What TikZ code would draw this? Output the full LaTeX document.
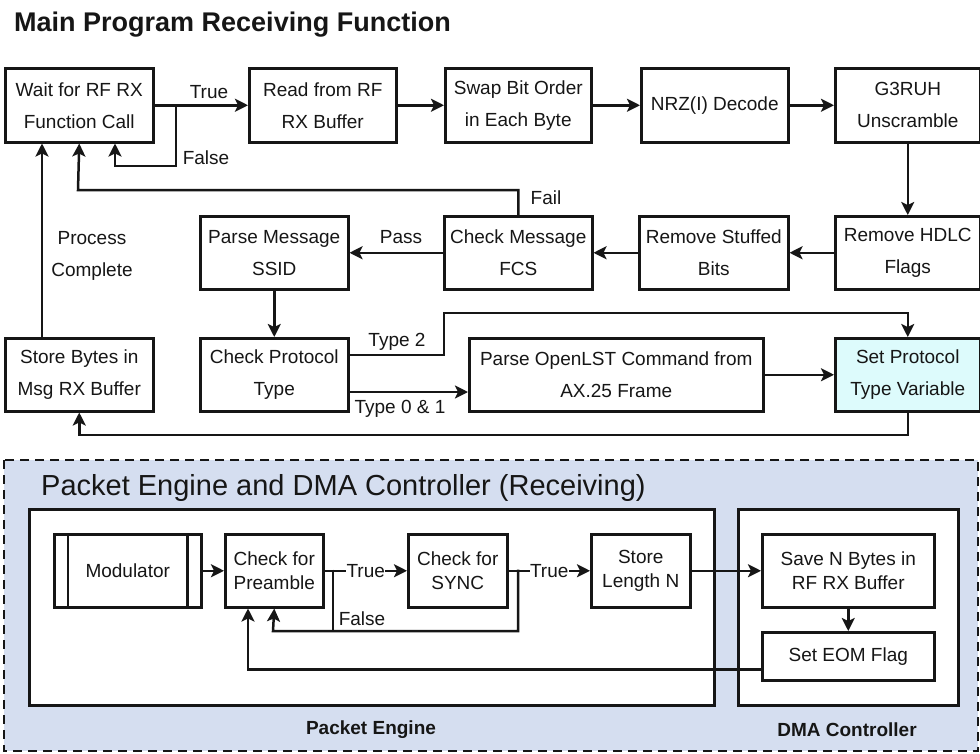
\documentclass[tikz,border=0pt]{standalone}
\usepackage{fontspec}
\setmainfont{Liberation Sans}
\usetikzlibrary{arrows.meta,calc}
\definecolor{txt}{RGB}{22,22,22}
\definecolor{cyanfill}{RGB}{221,251,252}
\definecolor{panel}{RGB}{213,222,240}
\begin{document}
\begin{tikzpicture}[x=1pt,y=-1pt,
  box/.style={draw=txt, line width=2.5pt, inner sep=0pt, align=center, anchor=north west, text=txt, font=\fontsize{19}{32}\selectfont},
  sbox/.style={box, font=\fontsize{19}{24}\selectfont},
  arr/.style={draw=txt, line width=2.5pt, -{Stealth[length=13pt,width=13pt,inset=3pt]}},
  ln/.style={draw=txt, line width=2.5pt},
  lbl/.style={text=txt, font=\fontsize{19}{32}\selectfont, inner sep=0.5pt, align=center},
  blbl/.style={text=txt, font=\fontsize{19}{24}\selectfont\bfseries, inner sep=0pt},
]
\path[fill=white] (0,0) rectangle (980,753);
\useasboundingbox (0,0) rectangle (980,753);

% title
\node[anchor=base west, text=txt, font=\fontsize{27}{32}\selectfont\bfseries, inner sep=0pt] (title) at (14,31) {Main Program Receiving Function};

% top section boxes
\node[box, minimum width=148pt, minimum height=74pt] (b1) at (4,67) {Wait for RF RX\\Function Call};
\node[box, minimum width=147pt, minimum height=74pt] (b2) at (248,67) {Read from RF\\RX Buffer};
\node[box, minimum width=146pt, minimum height=74pt] (b3) at (444,67) {Swap Bit Order\\in Each Byte};
\node[box, minimum width=147pt, minimum height=74pt] (b4) at (640,67) {NRZ(I) Decode};
\node[box, minimum width=145pt, minimum height=74pt] (b5) at (834,67) {G3RUH\\Unscramble};
\node[box, minimum width=145pt, minimum height=73pt] (hdlc) at (834,215) {Remove HDLC\\Flags};
\node[box, minimum width=149pt, minimum height=73pt] (stuff) at (638,215) {Remove Stuffed\\Bits};
\node[box, minimum width=148pt, minimum height=73pt] (fcs) at (443,215) {Check Message\\FCS};
\node[box, minimum width=148pt, minimum height=73pt] (ssid) at (199,215) {Parse Message\\SSID};
\node[box, minimum width=148pt, minimum height=73pt] (proto) at (199,337) {Check Protocol\\Type};
\node[box, minimum width=148pt, minimum height=73pt] (store) at (4,337) {Store Bytes in\\Msg RX Buffer};
\node[box, minimum width=294pt, minimum height=73pt] (open) at (468,337) {Parse OpenLST Command from\\AX.25 Frame};
\node[box, fill=cyanfill, minimum width=145pt, minimum height=73pt] (setp) at (834,337) {Set Protocol\\Type Variable};

% top section connectors
\coordinate (j1) at (176,104);
\coordinate (fl) at (115,166);
\draw[arr] (b1.east) -- (b2.west);
\node[lbl] (ltrue) at (209,92) {True};
\draw[arr] (j1) |- (fl) -- (fl |- b1.south);
\node[lbl] (lfalse) at (206,158) {False};
\draw[arr] (b2.east) -- (b3.west);
\draw[arr] (b3.east) -- (b4.west);
\draw[arr] (b4.east) -- (b5.west);
\draw[arr] (b5.south) -- (hdlc.north);
\draw[arr] (hdlc.west) -- (stuff.east);
\draw[arr] (stuff.west) -- (fcs.east);
\draw[arr] (fcs.west) -- (ssid.east);
\node[lbl] (lpass) at (401,237) {Pass};
\coordinate (fc) at (78,190);
\draw[arr] (fcs.north) |- (fc) -- (b1.south);
\node[lbl] (lfail) at (546,198) {Fail};
\draw[arr] (ssid.south) -- (proto.north);
\coordinate (t2a) at (444,355);
\coordinate (t2b) at (444,313);
\draw[arr] (proto.east |- t2a) -- (t2a) -- (t2b) -| (setp.north);
\node[lbl] (ltype2) at (397,342) {Type 2};
\coordinate (t01) at (400,392);
\draw[arr] (proto.east |- t01) -- (open.west |- t01);
\node[lbl] (ltype01) at (400,409) {Type 0 \& 1};
\draw[arr] (open.east) -- (setp.west);
\coordinate (rb) at (500,435);
\draw[arr] (setp.south) |- (rb) -| (store.south);
\draw[arr] ([xshift=38pt]store.north west) -- ([xshift=38pt]b1.south west);
\node[lbl] (lproc) at (92,256) {Process\\Complete};

% bottom panel
\path[fill=panel, draw=txt, line width=2.2pt, dash pattern=on 9pt off 6pt] (4,460) rectangle (978,751);
\node[anchor=base west, text=txt, font=\fontsize{29}{32}\selectfont, inner sep=0pt] (ptitle) at (41,495) {Packet Engine and DMA Controller (Receiving)};
\node[box, fill=white, minimum width=685pt, minimum height=196pt] (pe) at (28,508) {};
\node[box, fill=white, minimum width=220pt, minimum height=196pt] (dma) at (737,508) {};
\node[blbl] (lpe) at (371,730) {Packet Engine};
\node[blbl] (ldma) at (847,730) {DMA Controller};

\node[sbox, minimum width=147pt, minimum height=73pt] (mod) at (53,533) {Modulator};
\draw[ln] ([xshift=15pt]mod.north west) -- ([xshift=15pt]mod.south west);
\draw[ln] ([xshift=-15pt]mod.north east) -- ([xshift=-15pt]mod.south east);
\node[sbox, minimum width=98pt, minimum height=73pt] (pre) at (224,533) {Check for\\Preamble};
\node[sbox, minimum width=99pt, minimum height=73pt] (sync) at (407,533) {Check for\\SYNC};
\node[sbox, minimum width=99pt, minimum height=73pt] (len) at (590,533) {Store\\Length N};
\node[sbox, minimum width=172pt, minimum height=73pt] (save) at (761,533) {Save N Bytes in\\RF RX Buffer};
\node[sbox, minimum width=172pt, minimum height=48pt] (eom) at (761,631) {Set EOM Flag};

\draw[arr] (mod.east) -- (pre.west);
\coordinate (jp) at (333,569.5);
\coordinate (js) at (518,569.5);
\coordinate (fb) at (273,631);
\draw[arr] (js) |- (fb) -- (pre.south);
\draw[ln] (jp) -- (jp |- fb);
\draw[arr] (pre.east) -- node[lbl, fill=white] (lt1) {True} (sync.west);
\draw[arr] (sync.east) -- node[lbl, fill=white] (lt2) {True} (len.west);
\node[lbl] (lf2) at (362,619) {False};
\draw[arr] (len.east) -- (save.west);
\draw[arr] (save.south) -- (eom.north);
\draw[arr] ([yshift=-13pt]eom.west) -| ([xshift=24pt]pre.south west);
\end{tikzpicture}
\end{document}
